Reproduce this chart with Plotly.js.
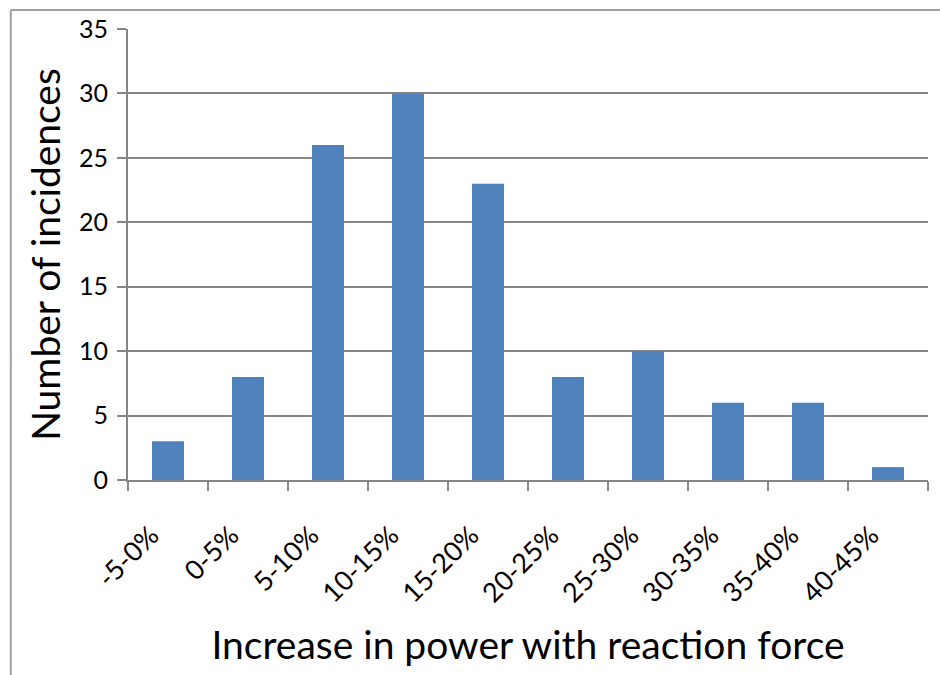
<!DOCTYPE html>
<html>
<head>
<meta charset="utf-8">
<script src="https://cdn.plot.ly/plotly-3.0.1.min.js"></script>
<style>html,body{margin:0;padding:0;background:#fff;}#chart{width:940px;height:675px;}</style>
</head>
<body>
<div id="chart"></div>
<script>
var categories = ["-5-0%", "0-5%", "5-10%", "10-15%", "15-20%", "20-25%", "25-30%", "30-35%", "35-40%", "40-45%"];
var counts = [3, 8, 26, 30, 23, 8, 10, 6, 6, 1];
var xTitle = "Increase in power with reaction force";
var yTitle = "Number of incidences";

var fontFam = "Lato, 'Open Sans', sans-serif";
var gray = "#868686";

var trace = {
  type: "bar",
  x: categories,
  y: counts,
  marker: {color: "#4F81BD"},
  hoverinfo: "x+y"
};

var layout = {
  width: 940, height: 675,
  margin: {l: 128, r: 12, t: 29, b: 195},
  paper_bgcolor: "#fff", plot_bgcolor: "#fff",
  bargap: 0.6,
  showlegend: false,
  font: {family: fontFam, color: "#000"},
  xaxis: {
    type: "category",
    tickson: "boundaries",
    ticks: "outside", ticklen: 9, tickwidth: 2, tickcolor: gray,
    showline: true, linecolor: gray, linewidth: 2,
    showgrid: false,
    tickangle: -45,
    ticklabelstandoff: 27,
    ticklabelshift: -17,
    tickfont: {size: 27, family: fontFam},
    title: {text: xTitle, font: {size: 39, family: fontFam}, standoff: 24}
  },
  yaxis: {
    range: [0, 35], dtick: 5,
    ticks: "outside", ticklen: 9, tickwidth: 2, tickcolor: gray,
    showline: true, linecolor: gray, linewidth: 2,
    showgrid: true, gridcolor: gray, gridwidth: 2,
    zeroline: false,
    ticklabelstandoff: 4,
    tickfont: {size: 25, family: fontFam},
    title: {text: yTitle, font: {size: 39, family: fontFam}, standoff: 6}
  },
  shapes: [
    {type: "line", xref: "paper", yref: "paper", x0: -0.1465, x1: -0.1465, y0: 1.042, y1: -0.5, line: {color: "#a0a0a0", width: 2}},
    {type: "line", xref: "paper", yref: "paper", x0: -0.1465, x1: 1.1, y0: 1.042, y1: 1.042, line: {color: "#a0a0a0", width: 2}}
  ]
};

Plotly.newPlot("chart", [trace], layout, {displayModeBar: false, staticPlot: true});
</script>
</body>
</html>
